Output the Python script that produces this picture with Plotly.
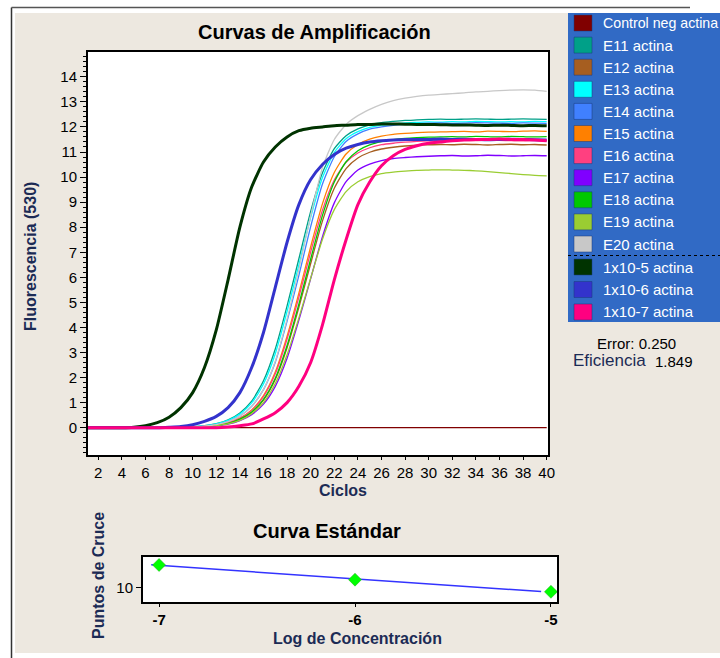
import numpy as np
import plotly.graph_objects as go

W, H = 720, 658
FONT = "Liberation Sans, Arial, sans-serif"
NAVY = "#1C2B55"
BEIGE = "#EDE8E0"

cycles = list(range(1, 41))

control_neg = [0.0, 0.0, 0.0, 0.0, 0.0, 0.0, 0.0, 0.0, 0.0, 0.0,
               0.0, 0.0, 0.0, 0.0, 0.0, 0.0, 0.0, 0.0, 0.0, 0.0,
               0.0, 0.0, 0.0, 0.0, 0.0, 0.0, 0.0, 0.0, 0.0, 0.0,
               0.0, 0.0, 0.0, 0.0, 0.0, 0.0, 0.0, 0.0, 0.0, 0.0]
e11 = [0.0, 0.0, 0.0, 0.0, 0.0, 0.01, 0.01, 0.01, 0.02, 0.04,
       0.08, 0.16, 0.31, 0.59, 1.06, 1.87, 3.14, 4.86, 6.74, 8.63,
       10.17, 11.13, 11.65, 11.92, 12.08, 12.17, 12.22, 12.26, 12.28, 12.30,
       12.31, 12.30, 12.31, 12.32, 12.31, 12.30, 12.31, 12.32, 12.31, 12.30]
e12 = [0.0, 0.0, 0.0, 0.0, 0.0, 0.0, 0.01, 0.01, 0.01, 0.02,
       0.04, 0.08, 0.17, 0.33, 0.61, 1.10, 1.92, 3.19, 4.80, 6.55,
       8.25, 9.55, 10.34, 10.76, 10.99, 11.12, 11.19, 11.24, 11.27, 11.29,
       11.30, 11.29, 11.31, 11.30, 11.28, 11.30, 11.31, 11.29, 11.30, 11.28]
e13 = [0.0, 0.0, 0.0, 0.0, 0.0, 0.0, 0.0, 0.01, 0.01, 0.03,
       0.07, 0.15, 0.29, 0.54, 0.99, 1.74, 2.95, 4.64, 6.49, 8.39,
       9.98, 10.98, 11.53, 11.81, 11.98, 12.07, 12.12, 12.16, 12.18, 12.20,
       12.19, 12.21, 12.20, 12.22, 12.21, 12.20, 12.21, 12.20, 12.22, 12.21]
e14 = [0.0, 0.0, 0.0, 0.0, 0.0, 0.0, 0.0, 0.01, 0.01, 0.02,
       0.06, 0.12, 0.24, 0.46, 0.85, 1.52, 2.61, 4.25, 6.08, 8.02,
       9.72, 10.81, 11.42, 11.72, 11.91, 12.00, 12.06, 12.10, 12.13, 12.15,
       12.16, 12.14, 12.15, 12.17, 12.16, 12.15, 12.14, 12.16, 12.15, 12.14]
e15 = [0.0, 0.0, 0.0, 0.0, 0.0, 0.0, 0.01, 0.01, 0.01, 0.02,
       0.05, 0.10, 0.20, 0.38, 0.71, 1.28, 2.22, 3.65, 5.37, 7.22,
       8.94, 10.18, 10.92, 11.30, 11.51, 11.63, 11.70, 11.74, 11.77, 11.79,
       11.80, 11.81, 11.82, 11.80, 11.83, 11.82, 11.81, 11.83, 11.84, 11.82]
e16 = [0.0, 0.0, 0.0, 0.0, 0.0, 0.0, 0.0, 0.01, 0.01, 0.02,
       0.05, 0.10, 0.19, 0.37, 0.69, 1.24, 2.15, 3.54, 5.21, 7.01,
       8.68, 9.88, 10.59, 10.96, 11.17, 11.29, 11.35, 11.39, 11.42, 11.44,
       11.45, 11.44, 11.46, 11.45, 11.47, 11.46, 11.45, 11.44, 11.46, 11.45]
e17 = [0.0, 0.0, 0.0, 0.0, 0.0, 0.0, 0.0, 0.0, 0.01, 0.01,
       0.03, 0.07, 0.14, 0.28, 0.52, 0.94, 1.65, 2.77, 4.29, 5.95,
       7.62, 8.97, 9.82, 10.28, 10.52, 10.66, 10.74, 10.78, 10.81, 10.83,
       10.85, 10.86, 10.84, 10.85, 10.87, 10.86, 10.84, 10.85, 10.86, 10.85]
e18 = [0.0, 0.0, 0.0, 0.0, 0.0, 0.0, 0.0, 0.01, 0.01, 0.02,
       0.04, 0.09, 0.17, 0.34, 0.63, 1.13, 1.97, 3.28, 4.93, 6.73,
       8.47, 9.80, 10.61, 11.05, 11.28, 11.41, 11.49, 11.54, 11.57, 11.59,
       11.60, 11.61, 11.60, 11.62, 11.61, 11.60, 11.62, 11.61, 11.60, 11.61]
e19 = [0.0, 0.0, 0.0, 0.0, 0.0, 0.0, 0.0, 0.01, 0.01, 0.02,
       0.04, 0.08, 0.15, 0.29, 0.56, 1.00, 1.76, 2.91, 4.38, 5.97,
       7.52, 8.70, 9.42, 9.81, 10.02, 10.14, 10.20, 10.24, 10.27, 10.28,
       10.29, 10.28, 10.27, 10.25, 10.22, 10.18, 10.14, 10.10, 10.07, 10.05]
e20 = [0.0, 0.0, 0.0, 0.0, 0.0, 0.0, 0.01, 0.01, 0.01, 0.02,
       0.06, 0.12, 0.24, 0.46, 0.86, 1.53, 2.65, 4.34, 6.32, 8.45,
       10.38, 11.50, 12.10, 12.45, 12.70, 12.90, 13.05, 13.15, 13.22, 13.27,
       13.30, 13.33, 13.36, 13.40, 13.42, 13.45, 13.47, 13.48, 13.47, 13.42]
std_1e5 = [0.0, 0.0, 0.0, 0.0, 0.02, 0.08, 0.20, 0.42, 0.80, 1.40,
           2.40, 3.90, 5.90, 8.00, 9.60, 10.60, 11.20, 11.60, 11.85, 11.95,
           12.00, 12.05, 12.07, 12.10, 12.10, 12.12, 12.12, 12.11, 12.10, 12.10,
           12.09, 12.08, 12.08, 12.07, 12.06, 12.07, 12.06, 12.05, 12.06, 12.05]
std_1e6 = [0.0, 0.0, 0.0, 0.0, 0.0, 0.0, 0.0, 0.02, 0.05, 0.12,
           0.25, 0.45, 0.80, 1.40, 2.40, 3.80, 5.60, 7.40, 8.90, 9.90,
           10.50, 10.90, 11.15, 11.30, 11.40, 11.45, 11.48, 11.50, 11.50, 11.50,
           11.52, 11.50, 11.51, 11.50, 11.49, 11.50, 11.51, 11.50, 11.49, 11.48]
std_1e7 = [0.0, 0.0, 0.0, 0.0, 0.0, 0.0, 0.0, 0.0, 0.0, 0.0,
           0.0, 0.0, 0.03, 0.08, 0.15, 0.35, 0.60, 1.00, 1.65, 2.60,
           4.10, 5.90, 7.50, 8.90, 9.80, 10.45, 10.85, 11.10, 11.25, 11.35,
           11.40, 11.45, 11.48, 11.50, 11.50, 11.52, 11.50, 11.50, 11.48, 11.45]

series_names = ["Control neg actina", "E11 actina", "E12 actina", "E13 actina",
                "E14 actina", "E15 actina", "E16 actina", "E17 actina",
                "E18 actina", "E19 actina", "E20 actina",
                "1x10-5 actina", "1x10-6 actina", "1x10-7 actina"]
series_values = [control_neg, e11, e12, e13, e14, e15, e16, e17, e18, e19, e20,
                 std_1e5, std_1e6, std_1e7]
series_colors = ["#800000", "#00A088", "#A65E20", "#00FFFF", "#4080FF", "#FF8000",
                 "#FF4080", "#8000FF", "#00C800", "#9ACD32", "#C8C8C8",
                 "#003300", "#3333CC", "#FF0080"]
series_widths = [1.3] * 11 + [3, 3, 3]

x_ticks = list(range(2, 41, 2))
y_ticks = list(range(0, 15))

std_log = [-7, -6, -5]
std_cp = [17.2, 12.6, 8.8]
std_ticktext = ["-7", "-6", "-5"]
error_text = "Error: 0.250"
eff_value = "1.849"


def px(x):
    return x / W


def py(y):
    return 1 - y / H


fig = go.Figure()

for name, vals, col, lw in zip(series_names, series_values, series_colors, series_widths):
    fig.add_trace(go.Scatter(x=cycles, y=vals, mode="lines", name=name,
                             line=dict(color=col, width=lw, shape="spline", smoothing=0.6),
                             xaxis="x", yaxis="y", showlegend=False))

# Standard curve regression line + points
coef = np.polyfit(std_log, std_cp, 1)
lx = np.array([min(std_log) - 0.04, max(std_log) - 0.05])
fig.add_trace(go.Scatter(x=lx, y=np.polyval(coef, lx), mode="lines",
                         line=dict(color="#3333FF", width=1.5),
                         xaxis="x2", yaxis="y2", showlegend=False))
fig.add_trace(go.Scatter(x=std_log, y=std_cp, mode="markers",
                         marker=dict(symbol="diamond", size=10, color="#00FF00",
                                     line=dict(color="#22AA22", width=0.5)),
                         xaxis="x2", yaxis="y2", showlegend=False))

axis_common = dict(showline=True, linecolor="black", linewidth=2, mirror=True,
                   showgrid=False, zeroline=False, ticks="outside", tickcolor="black",
                   tickfont=dict(family=FONT, size=15, color="black"))

shapes = []
annotations = []

# window frame
shapes.append(dict(type="rect", xref="paper", yref="paper", x0=0, x1=px(15), y0=0, y1=1,
                   fillcolor="white", line=dict(width=0), layer="below"))
shapes.append(dict(type="rect", xref="paper", yref="paper", x0=0, x1=1, y0=py(13), y1=1,
                   fillcolor="white", line=dict(width=0), layer="below"))
shapes.append(dict(type="rect", xref="paper", yref="paper", x0=0, x1=1, y0=0, y1=py(653),
                   fillcolor="white", line=dict(width=0), layer="below"))
shapes.append(dict(type="line", xref="paper", yref="paper", x0=px(11.5), x1=px(11.5),
                   y0=0, y1=py(7.5), line=dict(color="#333333", width=1.5)))
shapes.append(dict(type="line", xref="paper", yref="paper", x0=px(11.5), x1=px(690),
                   y0=py(7.5), y1=py(7.5), line=dict(color="#555555", width=1.5)))

# legend list box
shapes.append(dict(type="rect", xref="paper", yref="paper", x0=px(568), x1=1,
                   y0=py(322), y1=py(13), fillcolor="#316AC5", line=dict(width=0)))
shapes.append(dict(type="line", xref="paper", yref="paper", x0=px(568), x1=1,
                   y0=py(255.5), y1=py(255.5), line=dict(color="black", width=1, dash="dot")))
for i, (name, col) in enumerate(zip(series_names, series_colors)):
    yc = 23 + 22.1 * i if i < 11 else 267 + 22.5 * (i - 11)
    shapes.append(dict(type="rect", xref="paper", yref="paper", x0=px(574), x1=px(592),
                       y0=py(yc + 8), y1=py(yc - 8), fillcolor=col,
                       line=dict(color="#1A3A7A", width=0.5)))
    fs = 14.2 if i == 0 else 15
    annotations.append(dict(xref="paper", yref="paper", x=px(601), y=py(yc), text=name,
                            showarrow=False, xanchor="left", yanchor="middle",
                            font=dict(family=FONT, size=fs, color="white")))

annotations += [
    dict(xref="paper", yref="paper", x=px(636), y=py(343), text=error_text, showarrow=False,
         xanchor="center", yanchor="middle", font=dict(family=FONT, size=15, color="black")),
    dict(xref="paper", yref="paper", x=px(571), y=py(360), text="Eficiencia", showarrow=False,
         xanchor="left", yanchor="middle", font=dict(family=FONT, size=17, color=NAVY)),
    dict(xref="paper", yref="paper", x=px(653), y=py(361), text=eff_value, showarrow=False,
         xanchor="left", yanchor="middle", font=dict(family=FONT, size=15, color="black")),
    dict(xref="paper", yref="paper", x=px(314), y=py(32), text="<b>Curvas de Amplificación</b>",
         showarrow=False, xanchor="center", yanchor="middle",
         font=dict(family=FONT, size=20, color="black")),
    dict(xref="paper", yref="paper", x=px(30), y=py(257), text="<b>Fluorescencia (530)</b>",
         showarrow=False, textangle=-90, xanchor="center", yanchor="middle",
         font=dict(family=FONT, size=16, color=NAVY)),
    dict(xref="paper", yref="paper", x=px(343), y=py(490), text="<b>Ciclos</b>",
         showarrow=False, xanchor="center", yanchor="middle",
         font=dict(family=FONT, size=16, color=NAVY)),
    dict(xref="paper", yref="paper", x=px(327), y=py(531), text="<b>Curva Estándar</b>",
         showarrow=False, xanchor="center", yanchor="middle",
         font=dict(family=FONT, size=20, color="black")),
    dict(xref="paper", yref="paper", x=px(98), y=py(575), text="<b>Puntos de Cruce</b>",
         showarrow=False, textangle=-90, xanchor="center", yanchor="middle",
         font=dict(family=FONT, size=16, color=NAVY)),
    dict(xref="paper", yref="paper", x=px(357), y=py(638), text="<b>Log de Concentración</b>",
         showarrow=False, xanchor="center", yanchor="middle",
         font=dict(family=FONT, size=16, color=NAVY)),
]

fig.update_layout(
    width=W, height=H, autosize=False,
    margin=dict(l=0, r=0, t=0, b=0, autoexpand=False),
    paper_bgcolor=BEIGE, plot_bgcolor="white",
    font=dict(family=FONT, color="black"),
    showlegend=False,
    xaxis=dict(domain=[px(88), px(548)], range=[1.13, 40.11], tickvals=x_ticks,
               ticklen=3, anchor="y", **axis_common),
    yaxis=dict(domain=[py(455), py(52)], range=[-1.09, 14.99], tickvals=y_ticks,
               ticklen=6, anchor="x",
               minor=dict(ticks="outside", ticklen=3, dtick=0.2, tickcolor="black"),
               **axis_common),
    xaxis2=dict(domain=[px(143), px(557)], range=[-7.082, -4.969], tickvals=std_log,
                ticktext=std_ticktext, ticklen=3, anchor="y2", **axis_common),
    yaxis2=dict(domain=[py(602), py(557)], range=[5.6, 19.7], tickvals=[10],
                ticklen=5, anchor="x2", **axis_common),
    shapes=shapes,
    annotations=annotations,
)
fig.update_xaxes(tickfont=dict(family=FONT, size=15, color="black", weight="bold"),
                 selector=dict(anchor="y2"))

fig.write_html("out.html",
               config={"responsive": False, "displayModeBar": False, "staticPlot": True},
               default_width="720px", default_height="658px",
               post_script="document.body.style.margin='0';document.body.style.padding='0';"
                           "document.body.style.overflow='hidden';"
                           "document.documentElement.style.overflow='hidden';")
